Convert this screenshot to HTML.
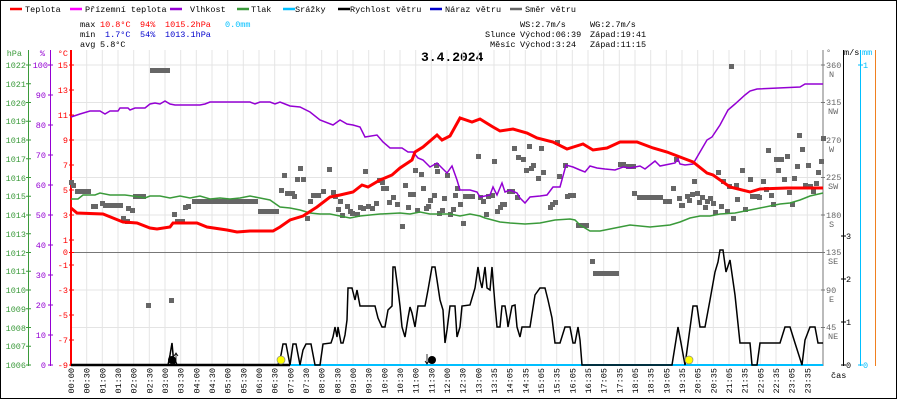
<!DOCTYPE html>
<html><head><meta charset="utf-8"><style>
html,body{margin:0;padding:0;background:#fff;width:900px;height:400px;overflow:hidden}
svg{display:block}
text{font-family:"Liberation Mono",monospace;font-size:8.5px}
</style></head><body>
<svg width="900" height="400" viewBox="0 0 900 400" xmlns="http://www.w3.org/2000/svg">
<rect x="0.5" y="0.5" width="896" height="398" fill="#fff" stroke="#000"/>
<g stroke-width="2.5">
<line x1="10" y1="9" x2="22" y2="9" stroke="#f00"/>
<line x1="70" y1="9" x2="82" y2="9" stroke="#f0f"/>
<line x1="170" y1="9" x2="182" y2="9" stroke="#9400d3"/>
<line x1="237" y1="9" x2="249" y2="9" stroke="#3a9a3a"/>
<line x1="283" y1="9" x2="295" y2="9" stroke="#00bfff"/>
<line x1="338" y1="9" x2="350" y2="9" stroke="#000"/>
<line x1="430" y1="9" x2="442" y2="9" stroke="#00c"/>
<line x1="510" y1="9" x2="522" y2="9" stroke="#666"/>
</g>
<g fill="#000">
<text x="25" y="12">Teplota</text>
<text x="85" y="12">Přízemní teplota</text>
<text x="190" y="12">Vlhkost</text>
<text x="251" y="12">Tlak</text>
<text x="295" y="12">Srážky</text>
<text x="350" y="12">Rychlost větru</text>
<text x="445" y="12">Náraz větru</text>
<text x="525" y="12">Směr větru</text>
<text x="80" y="27">max</text>
<text x="80" y="37">min</text>
<text x="80" y="47">avg</text>
<text x="100" y="47">5.8°C</text>
<text x="520" y="27">WS:2.7m/s</text>
<text x="590" y="27">WG:2.7m/s</text>
<text x="485" y="37">Slunce</text>
<text x="520" y="37">Východ:06:39</text>
<text x="590" y="37">Západ:19:41</text>
<text x="490" y="47">Měsíc</text>
<text x="520" y="47">Východ:3:24</text>
<text x="590" y="47">Západ:11:15</text>
</g>
<g fill="#f00"><text x="100" y="27">10.8°C</text><text x="140" y="27">94%</text><text x="165" y="27">1015.2hPa</text></g>
<text x="225" y="27" fill="#00bfff">0.0mm</text>
<g fill="#00c"><text x="105" y="37">1.7°C</text><text x="140" y="37">54%</text><text x="165" y="37">1013.1hPa</text></g>
<text x="421" y="61" style="font-size:13px;font-weight:bold;font-family:'Liberation Mono',monospace">3.4.2024</text>
<g stroke="#e4e4e4" stroke-width="1">
<path d="M86.7 50V365M102.3 50V365M118 50V365M133.7 50V365M149.3 50V365M165 50V365M180.7 50V365M196.3 50V365M212 50V365M227.7 50V365M243.3 50V365M259 50V365M274.7 50V365M290.3 50V365M306 50V365M321.7 50V365M337.3 50V365M353 50V365M368.7 50V365M384.3 50V365M400 50V365M415.7 50V365M431.3 50V365M447 50V365M462.7 50V365M478.3 50V365M494 50V365M509.7 50V365M525.3 50V365M541 50V365M556.7 50V365M572.3 50V365M588 50V365M603.7 50V365M619.3 50V365M635 50V365M650.7 50V365M666.3 50V365M682 50V365M697.7 50V365M713.3 50V365M729 50V365M744.7 50V365M760.3 50V365M776 50V365M791.7 50V365M807.3 50V365"/>
<path d="M71 65H823M71 102.5H823M71 140H823M71 177.5H823M71 215H823M71 290H823M71 327.5H823"/>
</g>
<line x1="71" y1="252.5" x2="823" y2="252.5" stroke="#777"/>
<line x1="28.5" y1="50" x2="28.5" y2="366" stroke="#3a9a3a"/>
<line x1="50.5" y1="50" x2="50.5" y2="366" stroke="#9400d3"/>
<line x1="71" y1="50" x2="71" y2="366" stroke="#f00" stroke-width="2"/>
<g fill="#3a9a3a" text-anchor="end">
<text x="22" y="56">hPa</text>
<text x="26" y="68">1022</text><text x="26" y="87">1021</text><text x="26" y="106">1020</text><text x="26" y="124">1019</text><text x="26" y="143">1018</text><text x="26" y="162">1017</text><text x="26" y="181">1016</text><text x="26" y="199">1015</text><text x="26" y="218">1014</text><text x="26" y="237">1013</text><text x="26" y="256">1012</text><text x="26" y="274">1011</text><text x="26" y="293">1010</text><text x="26" y="312">1009</text><text x="26" y="331">1008</text><text x="26" y="349">1007</text><text x="26" y="368">1006</text>
</g>
<path stroke="#3a9a3a" d="M26 65h5M26 83.75h5M26 102.5h5M26 121.25h5M26 140h5M26 158.75h5M26 177.5h5M26 196.25h5M26 215h5M26 233.75h5M26 252.5h5M26 271.25h5M26 290h5M26 308.75h5M26 327.5h5M26 346.25h5M26 365h5"/>
<g fill="#9400d3" text-anchor="end">
<text x="45" y="56">%</text>
<text x="48" y="68">100</text><text x="46" y="98">90</text><text x="46" y="128">80</text><text x="46" y="158">70</text><text x="46" y="188">60</text><text x="46" y="218">50</text><text x="46" y="248">40</text><text x="46" y="278">30</text><text x="46" y="308">20</text><text x="46" y="338">10</text><text x="46" y="368">0</text>
</g>
<path stroke="#9400d3" d="M48 65h5M48 95h5M48 125h5M48 155h5M48 185h5M48 215h5M48 245h5M48 275h5M48 305h5M48 335h5M48 365h5"/>
<g fill="#f00" text-anchor="end">
<text x="68" y="56">°C</text>
<text x="68" y="68">15</text><text x="68" y="93">13</text><text x="68" y="118">11</text><text x="68" y="143">9</text><text x="68" y="168">7</text><text x="68" y="193">5</text><text x="68" y="218">3</text><text x="68" y="243">1</text><text x="68" y="255">0</text><text x="68" y="268">-1</text><text x="68" y="293">-3</text><text x="68" y="318">-5</text><text x="68" y="343">-7</text><text x="68" y="368">-9</text>
</g>
<path stroke="#f00" d="M69 65h5M69 90h5M69 115h5M69 140h5M69 165h5M69 190h5M69 215h5M69 240h5M69 252.5h5M69 265h5M69 290h5M69 315h5M69 340h5M69 365h5"/>
<line x1="823" y1="50" x2="823" y2="366" stroke="#777"/>
<line x1="843.5" y1="50" x2="843.5" y2="366" stroke="#000"/>
<line x1="860.5" y1="50" x2="860.5" y2="366" stroke="#00bfff"/>
<line x1="875.5" y1="50" x2="875.5" y2="366" stroke="#f08020"/>
<g fill="#666">
<text x="826" y="55">°</text>
<text x="826" y="68">360</text><text x="829" y="77">N</text>
<text x="826" y="105">315</text><text x="828" y="114">NW</text>
<text x="826" y="143">270</text><text x="829" y="152">W</text>
<text x="826" y="180">225</text><text x="828" y="189">SW</text>
<text x="826" y="218">180</text><text x="829" y="227">S</text>
<text x="826" y="255">135</text><text x="828" y="264">SE</text>
<text x="826" y="293">90</text><text x="829" y="302">E</text>
<text x="826" y="330">45</text><text x="828" y="339">NE</text>
</g>
<path stroke="#777" d="M821 65h4M821 102.5h4M821 140h4M821 177.5h4M821 215h4M821 252.5h4M821 290h4M821 327.5h4"/>
<text x="844" y="55" fill="#000">m/s</text>
<text x="862" y="55" fill="#00bfff">mm</text>
<g fill="#000"><text x="846" y="239">3</text><text x="846" y="282">2</text><text x="846" y="325">1</text><text x="846" y="368">0</text></g>
<path stroke="#000" d="M841 236h5M841 279h5M841 322h5M841 365h5"/>
<g fill="#00bfff"><text x="863" y="68">1</text><text x="863" y="368">0</text></g>
<path stroke="#00bfff" d="M858 65h5M858 365h5"/>
<text x="831" y="378" fill="#000">čas</text>
<path fill="#666" d="M69 180h5v5h-5zM71 183h5v5h-5zM75 189h16v5h-16zM91 204h7v5h-7zM100 201h5v5h-5zM103 203h20v5h-20zM121 216h5v5h-5zM125 219h5v5h-5zM126 206h5v5h-5zM130 208h5v5h-5zM133 194h13v5h-13zM150 68h20v5h-20zM146 303h5v5h-5zM169 298h5v5h-5zM172 212h5v5h-5zM175 219h5v5h-5zM180 219h5v5h-5zM183 205h5v5h-5zM186 204h5v5h-5zM192 199h66v5h-66zM258 209h21v5h-21zM279 188h5v5h-5zM282 173h5v5h-5zM285 191h5v5h-5zM290 191h5v5h-5zM292 194h5v5h-5zM298 166h5v5h-5zM295 177h5v5h-5zM301 177h5v5h-5zM305 216h5v5h-5zM308 199h5v5h-5zM311 193h5v5h-5zM316 193h5v5h-5zM321 189h5v5h-5zM327 167h5v5h-5zM331 190h5v5h-5zM333 194h5v5h-5zM338 199h5v5h-5zM336 207h5v5h-5zM340 213h5v5h-5zM345 204h5v5h-5zM348 209h5v5h-5zM350 211h5v5h-5zM355 212h5v5h-5zM358 205h5v5h-5zM361 206h5v5h-5zM363 169h5v5h-5zM366 204h5v5h-5zM370 206h5v5h-5zM374 201h5v5h-5zM377 178h5v5h-5zM380 180h5v5h-5zM381 186h5v5h-5zM384 186h5v5h-5zM387 200h5v5h-5zM391 195h5v5h-5zM395 202h5v5h-5zM400 224h5v5h-5zM403 183h5v5h-5zM406 205h5v5h-5zM408 192h5v5h-5zM411 192h5v5h-5zM413 168h5v5h-5zM415 208h5v5h-5zM419 172h5v5h-5zM421 186h5v5h-5zM424 206h5v5h-5zM426 204h5v5h-5zM428 198h5v5h-5zM432 193h5v5h-5zM434 163h5v5h-5zM435 169h5v5h-5zM437 211h5v5h-5zM440 208h5v5h-5zM442 196h5v5h-5zM445 173h5v5h-5zM448 212h5v5h-5zM451 207h5v5h-5zM453 193h5v5h-5zM455 186h5v5h-5zM458 202h5v5h-5zM461 221h5v5h-5zM463 194h12v5h-12zM476 154h5v5h-5zM478 195h5v5h-5zM481 199h5v5h-5zM484 212h5v5h-5zM486 194h5v5h-5zM490 193h5v5h-5zM492 159h5v5h-5zM495 209h5v5h-5zM498 205h5v5h-5zM500 202h5v5h-5zM502 202h5v5h-5zM507 189h8v5h-8zM512 146h5v5h-5zM515 195h5v5h-5zM516 155h5v5h-5zM521 157h5v5h-5zM524 168h5v5h-5zM527 144h5v5h-5zM529 166h5v5h-5zM531 163h5v5h-5zM536 176h5v5h-5zM539 146h5v5h-5zM541 170h5v5h-5zM548 205h5v5h-5zM550 202h5v5h-5zM553 200h5v5h-5zM555 140h5v5h-5zM557 174h5v5h-5zM563 163h5v5h-5zM565 194h5v5h-5zM568 193h8v5h-8zM576 223h5v5h-5zM577 223h12v5h-12zM590 259h5v5h-5zM593 271h26v5h-26zM618 162h5v5h-5zM621 162h5v5h-5zM626 164h10v5h-10zM632 191h5v5h-5zM637 195h26v5h-26zM663 199h9v5h-9zM671 186h5v5h-5zM674 157h5v5h-5zM677 196h5v5h-5zM679 203h6v5h-6zM685 194h5v5h-5zM687 198h5v5h-5zM690 192h5v5h-5zM692 179h5v5h-5zM695 191h5v5h-5zM697 200h5v5h-5zM700 195h5v5h-5zM703 205h5v5h-5zM705 199h5v5h-5zM708 196h5v5h-5zM711 201h5v5h-5zM713 210h5v5h-5zM716 170h5v5h-5zM719 204h5v5h-5zM721 179h5v5h-5zM725 209h5v5h-5zM727 184h5v5h-5zM729 64h5v5h-5zM731 216h5v5h-5zM734 183h5v5h-5zM735 197h5v5h-5zM740 168h5v5h-5zM743 207h5v5h-5zM748 177h5v5h-5zM750 194h10v5h-10zM757 195h5v5h-5zM761 179h5v5h-5zM764 187h5v5h-5zM766 148h5v5h-5zM769 193h5v5h-5zM771 202h5v5h-5zM774 157h5v5h-5zM776 168h5v5h-5zM779 157h5v5h-5zM782 177h5v5h-5zM785 154h5v5h-5zM787 190h5v5h-5zM790 202h5v5h-5zM792 176h5v5h-5zM795 164h5v5h-5zM797 133h5v5h-5zM800 147h5v5h-5zM803 183h5v5h-5zM806 163h5v5h-5zM808 184h5v5h-5zM811 189h5v5h-5zM814 181h5v5h-5zM816 170h5v5h-5zM819 159h5v5h-5zM821 136h5v5h-5z"/>
<polyline fill="none" stroke="#3a9a3a" stroke-width="1.5" points="71,199 78,199 83,195 95,195 100,193 110,195 125,195 140,197 145,198 150,196 160,196 170,198 180,196 190,198 200,196 210,199 220,198 230,199 240,198 250,196 260,198 270,200 280,207 290,208 300,210 310,213 320,214 330,214 340,216 350,218 360,216 380,214 400,213 410,214 420,212 430,214 450,214 460,216 470,214 480,216 485,218 500,222 510,223 525,224 540,223 555,220 570,219 575,220 580,225 590,231 600,231 610,229 620,227 630,225 640,226 650,227 660,226 670,225 680,222 690,218 700,216 710,216 720,214 735,213 745,211 760,208 770,206 780,204 790,203 800,200 810,196 823,193"/>
<polyline fill="none" stroke="#9400d3" stroke-width="1.5" points="71,117 80,114 90,111 100,111 105,114 110,111 118,111 120,108 128,108 130,110 135,108 145,108 150,104 155,103 160,104 165,101 170,104 175,105 200,105 205,104 210,102 250,102 255,104 260,102 270,102 275,104 280,102 285,104 290,106 300,107 310,112 320,120 333,125 340,120 347,124 353,125 360,127 365,137 377,135 383,142 390,148 402,148 408,152 413,152 418,158 423,160 430,167 437,163 447,173 452,166 457,180 460,190 470,190 477,192 480,197 490,195 493,187 497,195 502,183 505,192 510,190 517,193 520,198 525,203 530,197 540,196 547,195 553,187 560,187 566,165 573,167 580,170 585,172 590,166 597,168 605,169 615,170 623,167 630,168 640,166 645,169 650,165 655,161 660,166 670,164 675,163 678,159 680,164 685,165 693,164 700,152 707,140 712,137 720,125 728,110 735,104 745,95 750,91 757,89 800,87 805,84 823,84"/>
<polyline fill="none" stroke="#f00" stroke-width="3" points="71,208 77,213 103,214 113,218 123,222 137,223 150,228 157,229 170,227 173,223 187,223 197,223 207,227 227,230 237,232 250,231 273,231 280,227 290,220 303,216 317,207 330,197 340,195 353,192 362,185 368,187 380,180 392,175 400,168 412,160 415,152 423,147 437,135 442,140 450,136 460,118 472,122 480,119 493,127 500,131 513,129 527,133 537,138 553,142 567,149 583,144 593,150 607,148 620,142 637,142 653,148 667,152 680,157 693,162 707,173 713,175 730,187 750,192 760,189 787,188 823,188"/>
<line x1="71" y1="365" x2="823" y2="365" stroke="#00bfff" stroke-width="2"/>
<polyline fill="none" stroke="#000" stroke-width="1.5" points="71,365 168,365 170,355 172,343 174,365 175,360 177,365 278,365 281,355 283,344 286,344 290,365 293,344 296,344 300,365 303,350 306,344 311,344 315,365 320,365 323,344 331,343 333,337 335,327 337,337 338,327 341,343 343,343 345,335 347,320 348,288 352,288 355,300 357,290 360,306 375,306 378,318 382,327 385,327 388,310 392,306 393,267 395,267 398,290 400,306 402,327 405,337 408,318 410,307 412,313 415,327 418,306 425,306 428,290 432,267 435,267 437,280 440,300 443,310 445,343 447,330 450,306 455,306 457,337 460,327 462,306 470,305 475,288 478,267 480,280 482,288 485,267 487,288 490,290 492,267 495,305 497,327 500,327 502,306 505,306 507,318 508,327 512,306 515,305 517,327 520,337 522,327 530,327 535,295 540,288 545,288 548,300 552,318 555,343 560,343 565,327 570,327 573,343 575,343 578,327 580,340 582,365 672,365 676,340 678,327 681,343 685,365 688,343 693,306 697,306 700,327 705,327 710,300 715,272 718,262 720,250 723,250 726,272 730,260 735,295 740,343 750,343 752,365 757,365 760,343 780,343 785,327 790,327 795,343 802,365 805,340 810,327 815,327 818,343 823,343"/>
<line x1="71" y1="365" x2="290" y2="365" stroke="#000" stroke-width="2.5"/>
<circle cx="172" cy="360" r="4" fill="#000"/>
<path d="M176 364V354M174 356l2-3 2 3" stroke="#000" fill="none" stroke-width="0.8"/>
<circle cx="281" cy="360" r="4" fill="#ff0" stroke="#888" stroke-width="0.7"/>
<circle cx="432" cy="360" r="4" fill="#000"/>
<path d="M427 354V364M425 361l2 3 2-3" stroke="#000" fill="none" stroke-width="0.8"/>
<circle cx="689" cy="360" r="4" fill="#ff0" stroke="#888" stroke-width="0.7"/>
<g fill="#000" text-anchor="end">
<text transform="translate(74,368) rotate(-90)">00:00</text>
<text transform="translate(89.7,368) rotate(-90)">00:30</text>
<text transform="translate(105.3,368) rotate(-90)">01:00</text>
<text transform="translate(121,368) rotate(-90)">01:30</text>
<text transform="translate(136.7,368) rotate(-90)">02:00</text>
<text transform="translate(152.3,368) rotate(-90)">02:30</text>
<text transform="translate(168,368) rotate(-90)">03:00</text>
<text transform="translate(183.7,368) rotate(-90)">03:30</text>
<text transform="translate(199.3,368) rotate(-90)">04:00</text>
<text transform="translate(215,368) rotate(-90)">04:30</text>
<text transform="translate(230.7,368) rotate(-90)">05:00</text>
<text transform="translate(246.3,368) rotate(-90)">05:30</text>
<text transform="translate(262,368) rotate(-90)">06:00</text>
<text transform="translate(277.7,368) rotate(-90)">06:30</text>
<text transform="translate(293.3,368) rotate(-90)">07:00</text>
<text transform="translate(309,368) rotate(-90)">07:30</text>
<text transform="translate(324.7,368) rotate(-90)">08:00</text>
<text transform="translate(340.3,368) rotate(-90)">08:30</text>
<text transform="translate(356,368) rotate(-90)">09:00</text>
<text transform="translate(371.7,368) rotate(-90)">09:30</text>
<text transform="translate(387.3,368) rotate(-90)">10:00</text>
<text transform="translate(403,368) rotate(-90)">10:30</text>
<text transform="translate(418.7,368) rotate(-90)">11:00</text>
<text transform="translate(434.3,368) rotate(-90)">11:30</text>
<text transform="translate(450,368) rotate(-90)">12:00</text>
<text transform="translate(465.7,368) rotate(-90)">12:30</text>
<text transform="translate(481.3,368) rotate(-90)">13:00</text>
<text transform="translate(497,368) rotate(-90)">13:35</text>
<text transform="translate(512.7,368) rotate(-90)">14:05</text>
<text transform="translate(528.3,368) rotate(-90)">14:35</text>
<text transform="translate(544,368) rotate(-90)">15:05</text>
<text transform="translate(559.7,368) rotate(-90)">15:35</text>
<text transform="translate(575.3,368) rotate(-90)">16:05</text>
<text transform="translate(591,368) rotate(-90)">16:35</text>
<text transform="translate(606.7,368) rotate(-90)">17:05</text>
<text transform="translate(622.3,368) rotate(-90)">17:35</text>
<text transform="translate(638,368) rotate(-90)">18:05</text>
<text transform="translate(653.7,368) rotate(-90)">18:35</text>
<text transform="translate(669.3,368) rotate(-90)">19:05</text>
<text transform="translate(685,368) rotate(-90)">19:35</text>
<text transform="translate(700.7,368) rotate(-90)">20:05</text>
<text transform="translate(716.3,368) rotate(-90)">20:35</text>
<text transform="translate(732,368) rotate(-90)">21:05</text>
<text transform="translate(747.7,368) rotate(-90)">21:35</text>
<text transform="translate(763.3,368) rotate(-90)">22:05</text>
<text transform="translate(779,368) rotate(-90)">22:35</text>
<text transform="translate(794.7,368) rotate(-90)">23:05</text>
<text transform="translate(810.3,368) rotate(-90)">23:35</text>
</g>
</svg>
</body></html>
